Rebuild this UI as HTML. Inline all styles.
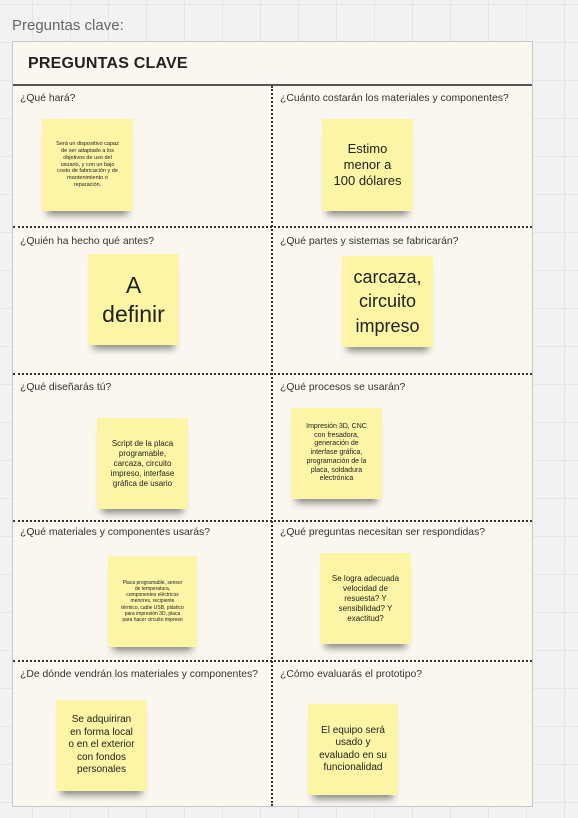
<!DOCTYPE html>
<html><head><meta charset="utf-8"><style>
html,body{margin:0;padding:0;}
body{width:578px;height:818px;overflow:hidden;position:relative;font-family:"Liberation Sans","DejaVu Sans",sans-serif;
background-color:#f2f2f2;
background-image:linear-gradient(#e6e6e6 1px,transparent 1px),linear-gradient(90deg,#e6e6e6 1px,transparent 1px);
background-size:38px 38px;background-position:-6px 4px;}
.title{position:absolute;left:12px;top:17px;font-size:15px;color:#666;}
.board{position:absolute;left:12px;top:41px;width:521px;height:766px;background:#faf7f0;border:1px solid #c8c8c8;box-sizing:border-box;}
.h{position:absolute;left:15px;top:13px;font-size:16px;font-weight:bold;color:#222;letter-spacing:0.2px;}
.hl{position:absolute;left:0;right:0;top:42px;height:2px;background:#555;}
.vd{position:absolute;left:258px;top:44px;bottom:0;border-left:2px dotted #333;}
.hd{position:absolute;left:0;right:0;border-top:2px dotted #333;}
.q{position:absolute;font-size:10.4px;color:#333;}
.s{position:absolute;background:#fdf5a6;display:flex;align-items:center;justify-content:center;text-align:center;color:#222;box-shadow:0 9px 7px -5px rgba(0,0,0,0.45);line-height:1.25;}
</style></head><body>
<div class="title">Preguntas clave:</div>
<div class="board">
<div class="h">PREGUNTAS CLAVE</div>
<div class="hl"></div>
<div class="vd"></div>
<div class="hd" style="top:184px"></div>
<div class="hd" style="top:331px"></div>
<div class="hd" style="top:478px"></div>
<div class="hd" style="top:618px"></div>
</div>
<div class="q" style="left:20px;top:93px">¿Qué hará?</div>
<div class="q" style="left:280px;top:93px">¿Cuánto costarán los materiales y componentes?</div>
<div class="q" style="left:20px;top:236px">¿Quién ha hecho qué antes?</div>
<div class="q" style="left:280px;top:236px">¿Qué partes y sistemas se fabricarán?</div>
<div class="q" style="left:20px;top:382px">¿Qué diseñarás tú?</div>
<div class="q" style="left:280px;top:382px">¿Qué procesos se usarán?</div>
<div class="q" style="left:20px;top:527px">¿Qué materiales y componentes usarás?</div>
<div class="q" style="left:280px;top:527px">¿Qué preguntas necesitan ser respondidas?</div>
<div class="q" style="left:20px;top:669px">¿De dónde vendrán los materiales y componentes?</div>
<div class="q" style="left:280px;top:669px">¿Cómo evaluarás el prototipo?</div>

<div class="s" style="left:42px;top:119px;width:91px;height:92px;font-size:5.5px">Será un dispositivo capaz<br>de ser adaptado a los<br>objetivos de uso del<br>usuario, y con un bajo<br>costo de fabricación y de<br>mantenimiento o<br>reparación.</div>
<div class="s" style="left:322px;top:119px;width:91px;height:92px;font-size:13px">Estimo<br>menor a<br>100 dólares</div>
<div class="s" style="left:88px;top:254px;width:91px;height:91px;font-size:23px;line-height:1.25">A<br>definir</div>
<div class="s" style="left:342px;top:256px;width:91px;height:91px;font-size:18px;line-height:1.35">carcaza,<br>circuito<br>impreso</div>
<div class="s" style="left:97px;top:418px;width:91px;height:91px;font-size:8px">Script de la placa<br>programable,<br>carcaza, circuito<br>impreso, interfase<br>gráfica de usario</div>
<div class="s" style="left:291px;top:408px;width:91px;height:91px;font-size:7px">Impresión 3D, CNC<br>con fresadora,<br>generación de<br>interfase gráfica,<br>programación de la<br>placa, soldadura<br>electrónica</div>
<div class="s" style="left:108px;top:556px;width:89px;height:91px;font-size:5px">Placa programable, sensor<br>de temperatura,<br>componentes eléctricos<br>menores, recipiente<br>térmico, cable USB, plástico<br>para impresión 3D, placa<br>para hacer circuito impreso</div>
<div class="s" style="left:320px;top:553px;width:91px;height:91px;font-size:8px">Se logra adecuada<br>velocidad de<br>resuesta? Y<br>sensibilidad? Y<br>exactitud?</div>
<div class="s" style="left:56px;top:700px;width:91px;height:91px;font-size:10px">Se adquiriran<br>en forma local<br>o en el exterior<br>con fondos<br>personales</div>
<div class="s" style="left:308px;top:704px;width:90px;height:91px;font-size:10px">El equipo será<br>usado y<br>evaluado en su<br>funcionalidad</div>
</body></html>
